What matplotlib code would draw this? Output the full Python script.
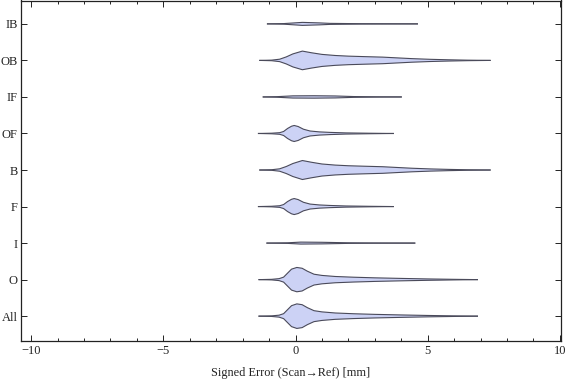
import matplotlib
matplotlib.use("Agg")
import matplotlib.pyplot as plt
from matplotlib.ticker import MultipleLocator
import numpy as np

# Categories from bottom to top
categories = ["All", "O", "I", "F", "B", "OF", "IF", "OB", "IB"]

# Violin profiles: signed error values (mm) and half-widths (category units)
all_x = [-1.38, -0.9, -0.62, -0.45, -0.3, -0.15, 0.05, 0.25, 0.45, 0.7, 1.0, 1.5, 2.2, 3.0, 4.0, 5.0, 6.0, 6.88]
all_w = [0, 0.008, 0.027, 0.068, 0.178, 0.287, 0.336, 0.314, 0.232, 0.150, 0.117, 0.087, 0.066, 0.049, 0.033, 0.019, 0.008, 0]

o_x = [-1.38, -0.9, -0.62, -0.45, -0.3, -0.15, 0.05, 0.25, 0.45, 0.7, 1.0, 1.5, 2.2, 3.0, 4.0, 5.0, 6.0, 6.88]
o_w = [0, 0.008, 0.027, 0.068, 0.178, 0.287, 0.333, 0.311, 0.230, 0.148, 0.115, 0.086, 0.066, 0.049, 0.033, 0.019, 0.008, 0]

i_x = [-1.08, -0.3, 0.2, 1.0, 2.0, 3.0, 4.51]
i_w = [0, 0.008, 0.027, 0.022, 0.008, 0.003, 0]

f_x = [-1.4, -0.9, -0.6, -0.45, -0.3, -0.15, -0.05, 0.1, 0.3, 0.55, 0.9, 1.3, 1.9, 2.8, 3.7]
f_w = [0, 0.008, 0.022, 0.055, 0.137, 0.199, 0.219, 0.191, 0.117, 0.068, 0.044, 0.030, 0.016, 0.007, 0]

b_x = [-1.35, -0.9, -0.6, -0.35, -0.1, 0.26, 0.6, 1.0, 1.5, 2.0, 2.6, 3.3, 3.8, 4.4, 5.1, 5.8, 6.5, 7.36]
b_w = [0, 0.008, 0.033, 0.096, 0.178, 0.26, 0.213, 0.165, 0.135, 0.117, 0.104, 0.090, 0.071, 0.049, 0.030, 0.017, 0.007, 0]

of_x = [-1.4, -0.9, -0.6, -0.45, -0.3, -0.15, -0.05, 0.1, 0.3, 0.55, 0.9, 1.3, 1.9, 2.8, 3.7]
of_w = [0, 0.008, 0.022, 0.055, 0.137, 0.199, 0.219, 0.191, 0.117, 0.068, 0.044, 0.030, 0.016, 0.007, 0]

if_x = [-1.22, -0.7, -0.1, 0.7, 1.5, 2.2, 3.2, 4.0]
if_w = [0, 0.008, 0.030, 0.033, 0.027, 0.011, 0.003, 0]

ob_x = [-1.35, -0.9, -0.6, -0.35, -0.1, 0.26, 0.6, 1.0, 1.5, 2.0, 2.6, 3.3, 3.8, 4.4, 5.1, 5.8, 6.5, 7.36]
ob_w = [0, 0.008, 0.033, 0.096, 0.178, 0.255, 0.210, 0.165, 0.135, 0.117, 0.104, 0.090, 0.071, 0.049, 0.030, 0.017, 0.007, 0]

ib_x = [-1.06, -0.45, 0.26, 0.9, 1.3, 2.5, 3.5, 4.61]
ib_w = [0, 0.008, 0.041, 0.027, 0.014, 0.005, 0.003, 0]

profiles = [(all_x, all_w), (o_x, o_w), (i_x, i_w), (f_x, f_w), (b_x, b_w),
            (of_x, of_w), (if_x, if_w), (ob_x, ob_w), (ib_x, ib_w)]

x_major = [-10, -5, 0, 5, 10]
xlabel = "Signed Error (Scan\u2192Ref) [mm]"

plt.rcParams['font.family'] = ['Liberation Serif', 'DejaVu Serif']

fig = plt.figure(figsize=(5.76, 3.81), dpi=100)
ax = fig.add_axes([20.5 / 576, 40 / 381, (561 - 20.5) / 576, (380.5 - 40) / 381])

fill_c = '#ccd2f5'
edge_c = '#4a4a5a'
for pos, (xs, ws) in enumerate(profiles, start=1):
    xs = np.asarray(xs, float)
    ws = np.asarray(ws, float)
    ax.fill_between(xs, pos - ws, pos + ws, facecolor=fill_c, edgecolor='none', zorder=2)
    ax.plot(xs, pos + ws, color=edge_c, lw=0.8, zorder=3)
    ax.plot(xs, pos - ws, color=edge_c, lw=0.8, zorder=3)

ax.set_xlim(-10.4, 10.04)
ax.set_ylim(0.32, 9.64)

ax.set_xticks(x_major)
ax.set_xticklabels(["\u221210", "\u22125", "0", "5", "10"])
ax.xaxis.set_minor_locator(MultipleLocator(1))
ax.set_yticks(range(1, len(categories) + 1))
ax.set_yticklabels(categories)

ax.tick_params(axis='both', which='major', direction='in', length=4.5, width=0.7,
               top=True, right=True, labelsize=9, colors='#222222', pad=3)
ax.tick_params(axis='x', which='minor', direction='in', length=2.5, width=0.6,
               top=True, bottom=True)
ax.tick_params(axis='y', which='major', pad=2)
for sp in ax.spines.values():
    sp.set_linewidth(0.9)
    sp.set_color('#222222')

ax.set_xlabel(xlabel, fontsize=8.8, color='#222222', labelpad=7)

fig.savefig("out.png", dpi=100)
